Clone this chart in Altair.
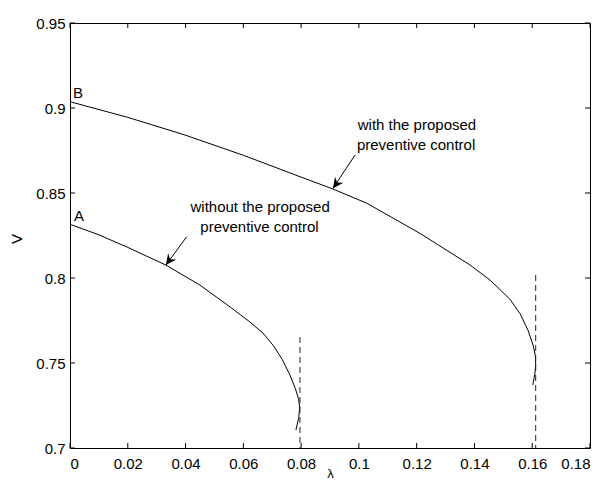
import altair as alt
import pandas as pd

# ---- data ----
# curve A: without the proposed preventive control
lam_a = [0.0, 0.01, 0.02, 0.0332, 0.045, 0.0554, 0.062, 0.0668, 0.0705, 0.0735, 0.0761, 0.0780, 0.0791, 0.0795, 0.0792, 0.0782]
v_a = [0.8316, 0.8254, 0.8180, 0.8076, 0.7958, 0.7830, 0.7745, 0.7676, 0.7600, 0.7520, 0.7430, 0.7350, 0.7290, 0.7240, 0.7180, 0.7106]
# curve B: with the proposed preventive control
lam_b = [0.0, 0.02, 0.0398, 0.06, 0.0796, 0.0908, 0.1027, 0.1211, 0.1385, 0.1454, 0.1523, 0.1558, 0.1586, 0.1604, 0.1611, 0.1612, 0.1609, 0.1602]
v_b = [0.9037, 0.8945, 0.8841, 0.8722, 0.8596, 0.8525, 0.8440, 0.8263, 0.8076, 0.7988, 0.7875, 0.7790, 0.7690, 0.7600, 0.7540, 0.7490, 0.7435, 0.7371]

# dashed limit lines
dash_lam = [0.0796, 0.1612]
dash_top = [0.7653, 0.8018]
dash_bottom = [0.70, 0.70]

# annotations
ann_text = ["with the proposed", "preventive control", "without the proposed", "preventive control"]
ann_lam = [0.1201, 0.1198, 0.0658, 0.0656]
ann_v = [0.8900, 0.8782, 0.8418, 0.8300]

curve_names = ["A", "B"]
name_lam = [0.0014, 0.0010]
name_v = [0.8365, 0.9086]

arrow_tail_lam = [0.0987, 0.0404]
arrow_tail_v = [0.8724, 0.8243]
arrow_tip_lam = [0.0910, 0.0332]
arrow_tip_v = [0.8527, 0.8076]

x_ticks = [0, 0.02, 0.04, 0.06, 0.08, 0.10, 0.12, 0.14, 0.16, 0.18]
y_ticks = [0.70, 0.75, 0.80, 0.85, 0.90, 0.95]

# ---- tables ----
curves_df = pd.DataFrame({
    "lam": lam_a + lam_b,
    "V": v_a + v_b,
    "curve": ["A"] * len(lam_a) + ["B"] * len(lam_b),
    "order": list(range(len(lam_a))) + list(range(len(lam_b))),
})
dash_df = pd.DataFrame({"lam": dash_lam, "top": dash_top, "bottom": dash_bottom})
ann_df = pd.DataFrame({"lam": ann_lam, "V": ann_v, "label": ann_text})
name_df = pd.DataFrame({"lam": name_lam, "V": name_v, "label": curve_names})
arrow_df = pd.DataFrame({
    "tail_lam": arrow_tail_lam, "tail_v": arrow_tail_v,
    "tip_lam": arrow_tip_lam, "tip_v": arrow_tip_v,
})
xt_df = pd.DataFrame({"t": x_ticks})
yt_df = pd.DataFrame({"t": y_ticks})

FONT = "Liberation Sans"
W, H = 520, 425
TICK = 5
x_scale = alt.Scale(domain=[0, 0.18], nice=False, zero=False)
y_scale = alt.Scale(domain=[0.70, 0.95], nice=False, zero=False)

main_x_axis = alt.Axis(
    orient="bottom", values=x_ticks, format=".2~f", ticks=False, tickSize=0,
    labelPadding=8, labelFont=FONT, labelFontSize=15, labelColor="black",
    domainColor="black", domainWidth=1, grid=False,
    title="λ", titleFont=FONT, titleFontSize=13, titleFontWeight="normal",
    titleColor="black", titleY=19, titleBaseline="top",
)
main_y_axis = alt.Axis(
    orient="left", values=y_ticks, format=".2~f", ticks=False, tickSize=0,
    labelPadding=5, labelFont=FONT, labelFontSize=15, labelColor="black",
    domainColor="black", domainWidth=1, grid=False,
    title="V", titleFont=FONT, titleFontSize=15, titleFontWeight="normal",
    titleColor="black", titleX=-49, titleY=H / 2 + 3, titleAngle=270,
    titleBaseline="alphabetic",
)

curves = alt.Chart(curves_df).mark_line(color="black", strokeWidth=1).encode(
    x=alt.X("lam:Q", scale=x_scale, axis=main_x_axis),
    y=alt.Y("V:Q", scale=y_scale, axis=main_y_axis),
    detail="curve:N",
    order="order:Q",
)

dashed = alt.Chart(dash_df).mark_rule(color="#222222", strokeDash=[6, 4], strokeWidth=1).encode(
    x=alt.X("lam:Q", scale=x_scale, axis=None),
    y=alt.Y("top:Q", scale=y_scale, axis=None),
    y2="bottom:Q",
)

# inward tick marks on all four sides (MATLAB box style)
tick_style = dict(color="black", size=TICK, thickness=1, opacity=1)
ticks_bottom = alt.Chart(xt_df).mark_tick(orient="vertical", **tick_style).encode(
    x=alt.X("t:Q", scale=x_scale, axis=None), y=alt.value(H - TICK / 2)
)
ticks_top = alt.Chart(xt_df).mark_tick(orient="vertical", **tick_style).encode(
    x=alt.X("t:Q", scale=x_scale, axis=None), y=alt.value(TICK / 2)
)
ticks_left = alt.Chart(yt_df).mark_tick(orient="horizontal", **tick_style).encode(
    y=alt.Y("t:Q", scale=y_scale, axis=None), x=alt.value(TICK / 2)
)
ticks_right = alt.Chart(yt_df).mark_tick(orient="horizontal", **tick_style).encode(
    y=alt.Y("t:Q", scale=y_scale, axis=None), x=alt.value(W - TICK / 2)
)

texts = alt.Chart(ann_df).mark_text(
    font=FONT, fontSize=15, color="black", align="center", baseline="middle"
).encode(
    x=alt.X("lam:Q", scale=x_scale, axis=None),
    y=alt.Y("V:Q", scale=y_scale, axis=None),
    text="label:N",
)

names = alt.Chart(name_df).mark_text(
    font=FONT, fontSize=15, color="black", align="left", baseline="middle"
).encode(
    x=alt.X("lam:Q", scale=x_scale, axis=None),
    y=alt.Y("V:Q", scale=y_scale, axis=None),
    text="label:N",
)

shafts = alt.Chart(arrow_df).mark_rule(color="black", strokeWidth=1).encode(
    x=alt.X("tail_lam:Q", scale=x_scale, axis=None),
    y=alt.Y("tail_v:Q", scale=y_scale, axis=None),
    x2="tip_lam:Q",
    y2="tip_v:Q",
)

heads = alt.Chart(arrow_df).mark_point(
    shape="M0,0 L-0.5,1.05 L0,0.7 L0.5,1.05 Z", size=420, filled=True,
    color="black", opacity=1, angle=216, strokeWidth=0,
).encode(
    x=alt.X("tip_lam:Q", scale=x_scale, axis=None),
    y=alt.Y("tip_v:Q", scale=y_scale, axis=None),
)

chart = (
    alt.layer(curves, dashed, ticks_bottom, ticks_top, ticks_left, ticks_right,
              texts, names, shafts, heads)
    .resolve_axis(x="independent", y="independent")
    .properties(
        width=W, height=H, background="white",
        autosize=alt.AutoSizeParams(type="none"),
        padding={"left": 62, "top": 15, "right": 10, "bottom": 34},
    )
    .configure_view(stroke="black", strokeWidth=1)
)

chart.save("out.html", embed_options={"renderer": "svg", "actions": False})
